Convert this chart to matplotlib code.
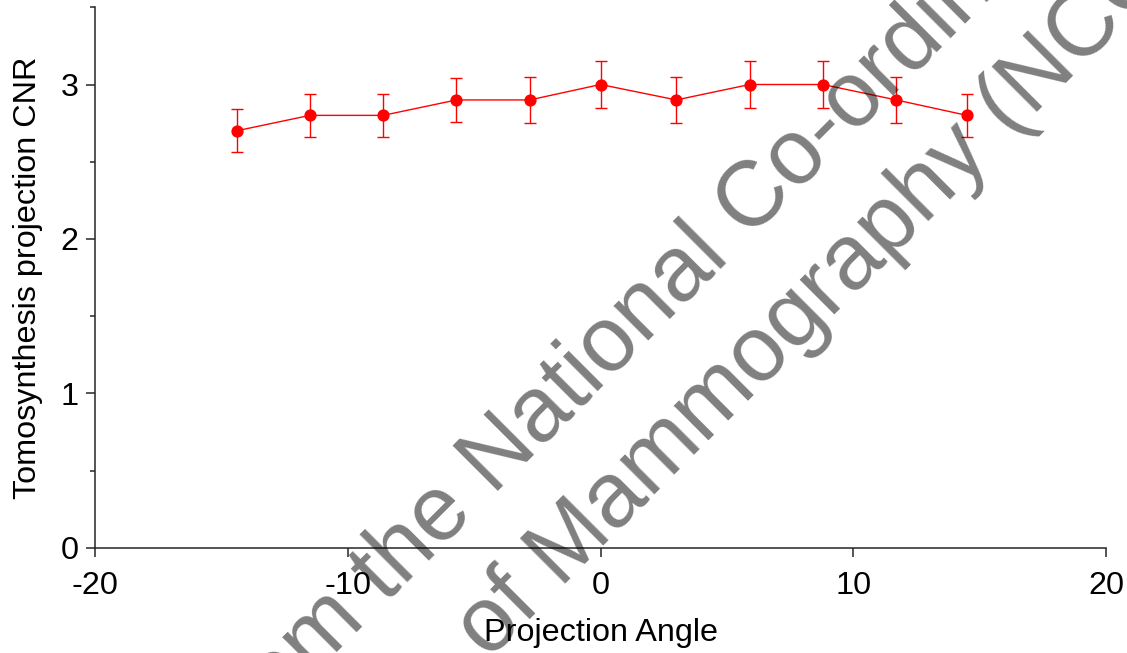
import matplotlib
matplotlib.use("Agg")
import matplotlib.pyplot as plt
from matplotlib.ticker import MultipleLocator

plt.rcParams["font.family"] = ["Liberation Sans", "DejaVu Sans"]
plt.rcParams["axes.unicode_minus"] = False

# Projection angles (degrees) and CNR with error bars
angles = [-14.4, -11.5, -8.6, -5.7, -2.8, 0.0, 3.0, 5.9, 8.8, 11.7, 14.5]
cnr = [2.7, 2.8, 2.8, 2.9, 2.9, 3.0, 2.9, 3.0, 3.0, 2.9, 2.8]
cnr_err = [0.14, 0.14, 0.14, 0.14, 0.15, 0.15, 0.15, 0.15, 0.15, 0.15, 0.14]

x_ticks = [-20, -10, 0, 10, 20]
y_ticks = [0, 1, 2, 3]

W, H = 1127, 653
fig = plt.figure(figsize=(W / 100, H / 100), dpi=100)
ax = fig.add_axes([95 / W, 105.3 / H, 1011 / W, 540.4 / H])

ax.errorbar(angles, cnr, yerr=cnr_err, color="red", lw=1.0, marker="o",
            markersize=7.8, capsize=4, elinewidth=1.0, capthick=1.0)

ax.set_xlim(-20, 20)
ax.set_ylim(0, 3.5)
ax.set_xticks(x_ticks)
ax.set_yticks(y_ticks)
ax.yaxis.set_minor_locator(MultipleLocator(0.5))

for side in ["top", "right"]:
    ax.spines[side].set_visible(False)
for side in ["left", "bottom"]:
    ax.spines[side].set_color("#262626")
    ax.spines[side].set_linewidth(1.1)

ax.tick_params(axis="both", which="major", direction="out", length=6.5,
               width=1.1, color="#262626", labelsize=23.3)
ax.tick_params(axis="y", which="major", pad=5.5)
ax.tick_params(axis="x", which="major", pad=10.5)
ax.tick_params(axis="y", which="minor", direction="out", length=3.6,
               width=1.1, color="#262626")

ax.set_xlabel("Projection Angle", fontsize=23.3, labelpad=12)
ax.set_ylabel("Tomosynthesis projection CNR", fontsize=23.3, labelpad=12.5)

# watermark, two lines at 45 degrees
fig.text(238 / W, 1 - 752 / H,
         "from the National Co-ordinating Centre for the Physics",
         fontsize=66, color="black", alpha=0.5, rotation=45,
         rotation_mode="anchor", ha="left", va="baseline")
fig.text(489 / W, 1 - 661 / H, "of Mammography (NCCPM)",
         fontsize=66, color="black", alpha=0.5, rotation=45,
         rotation_mode="anchor", ha="left", va="baseline")

fig.savefig("out.png", dpi=100)
